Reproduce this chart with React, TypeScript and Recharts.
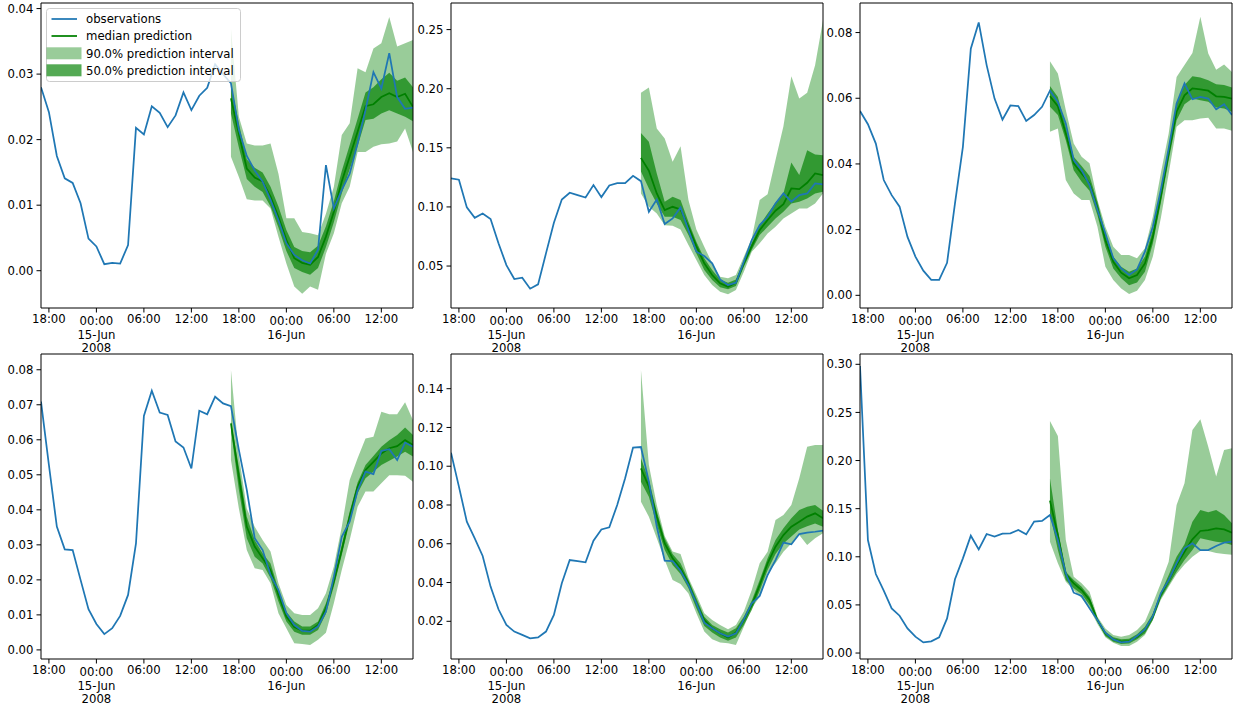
import React from "react";
import { ComposedChart, Line, Area, XAxis, YAxis, ReferenceLine } from "recharts";

const FONT = "'DejaVu Sans', sans-serif";
const FS = 11.7;
const OBS_COLOR = "#1f77b4";
const MED_COLOR = "#008000";

// hourly index 0 = 14-Jun-2008 17:00 ... 47 = 16-Jun-2008 16:00
const FORECAST_START = 24;
const X_MAX = 47;
const xTickIdx = [1, 7, 13, 19, 25, 31, 37, 43];
const xTickLabels = ["18:00", "00:00\n15-Jun\n2008", "06:00", "12:00", "18:00", "00:00\n16-Jun", "06:00", "12:00"];

const legendLabels = ["observations", "median prediction", "90.0% prediction interval", "50.0% prediction interval"];

// ---------- panel 1 ----------
const obs1 = [0.0280,0.0242,0.0175,0.0141,0.0134,0.0103,0.0049,0.0037,0.0010,0.0012,0.0011,0.0039,0.0218,0.0208,0.0251,0.0241,0.0219,0.0237,0.0272,0.0245,0.0267,0.0279,0.0315,0.0300,0.0286,0.0215,0.0175,0.0153,0.0136,0.0108,0.0077,0.0042,0.0024,0.0016,0.0011,0.0032,0.0161,0.0095,0.0123,0.0148,0.0194,0.0245,0.0303,0.0278,0.0332,0.0265,0.0247,0.0249];
const med1 = [0.0263,0.0209,0.0156,0.0142,0.0136,0.0113,0.0082,0.0047,0.0019,0.0012,0.0009,0.0021,0.0052,0.0090,0.0136,0.0174,0.0212,0.0251,0.0254,0.0265,0.0271,0.0265,0.0270,0.0250];
const lo50_1 = [0.0240,0.0188,0.0140,0.0128,0.0120,0.0098,0.0066,0.0030,0.0004,-0.0002,-0.0006,0.0004,0.0036,0.0074,0.0118,0.0155,0.0190,0.0230,0.0232,0.0240,0.0245,0.0240,0.0235,0.0228];
const hi50_1 = [0.0285,0.0225,0.0170,0.0157,0.0150,0.0128,0.0098,0.0062,0.0036,0.0030,0.0028,0.0038,0.0068,0.0106,0.0152,0.0192,0.0232,0.0272,0.0280,0.0292,0.0302,0.0290,0.0295,0.0280];
const lo90_1 = [0.0174,0.0143,0.0109,0.0107,0.0107,0.0095,0.0052,0.0011,-0.0024,-0.0035,-0.0024,-0.0029,0.0026,0.0057,0.0103,0.0128,0.0181,0.0181,0.0189,0.0193,0.0194,0.0197,0.0217,0.0181];
const hi90_1 = [0.0370,0.0235,0.0194,0.0191,0.0191,0.0194,0.0148,0.0080,0.0080,0.0059,0.0057,0.0054,0.0087,0.0128,0.0207,0.0225,0.0309,0.0303,0.0339,0.0347,0.0387,0.0342,0.0347,0.0352];
const yTicks1 = [0.0, 0.01, 0.02, 0.03, 0.04];

// ---------- panel 2 ----------
const obs2 = [0.1241,0.1230,0.0996,0.0908,0.0945,0.0897,0.0692,0.0508,0.0390,0.0401,0.0308,0.0345,0.0607,0.0866,0.1063,0.1120,0.1100,0.1080,0.1185,0.1083,0.1182,0.1201,0.1201,0.1263,0.1218,0.0959,0.1063,0.0855,0.0903,0.0996,0.0804,0.0621,0.0585,0.0523,0.0387,0.0339,0.0359,0.0537,0.0720,0.0846,0.0917,0.1030,0.1114,0.1044,0.1100,0.1114,0.1199,0.1190];
const med2 = [0.1415,0.1306,0.1114,0.0973,0.1001,0.0979,0.0832,0.0669,0.0523,0.0424,0.0354,0.0325,0.0359,0.0523,0.0669,0.0804,0.0889,0.0968,0.1024,0.1156,0.1151,0.1204,0.1283,0.1269];
const lo50_2 = [0.1300,0.1156,0.1030,0.0917,0.0917,0.0889,0.0762,0.0607,0.0466,0.0382,0.0320,0.0303,0.0331,0.0494,0.0635,0.0762,0.0832,0.0903,0.0959,0.1030,0.1044,0.1072,0.1114,0.1128];
const hi50_2 = [0.1625,0.1551,0.1283,0.1044,0.1086,0.1058,0.0875,0.0706,0.0565,0.0466,0.0387,0.0359,0.0387,0.0551,0.0697,0.0846,0.0945,0.1035,0.1114,0.1376,0.1269,0.1480,0.1444,0.1438];
const lo90_2 = [0.1114,0.1001,0.0945,0.0846,0.0841,0.0810,0.0677,0.0551,0.0424,0.0339,0.0283,0.0261,0.0297,0.0452,0.0621,0.0692,0.0776,0.0832,0.0903,0.0945,0.0987,0.0987,0.1030,0.1114];
const hi90_2 = [0.1965,0.2010,0.1663,0.1579,0.1382,0.1514,0.1058,0.0810,0.0663,0.0523,0.0410,0.0396,0.0424,0.0579,0.0734,0.1058,0.1108,0.1396,0.1683,0.2106,0.1917,0.1965,0.2199,0.2579];
const yTicks2 = [0.05, 0.10, 0.15, 0.20, 0.25];

// ---------- panel 3 ----------
const obs3 = [0.0561,0.0521,0.0462,0.0351,0.0305,0.0270,0.0178,0.0118,0.0075,0.0047,0.0047,0.0099,0.0280,0.0452,0.0751,0.0831,0.0701,0.0599,0.0535,0.0578,0.0576,0.0531,0.0549,0.0574,0.0623,0.0589,0.0523,0.0412,0.0381,0.0336,0.0260,0.0189,0.0113,0.0082,0.0062,0.0079,0.0133,0.0209,0.0320,0.0447,0.0584,0.0645,0.0597,0.0604,0.0599,0.0566,0.0582,0.0549];
const med3 = [0.0606,0.0576,0.0493,0.0402,0.0371,0.0341,0.0265,0.0168,0.0102,0.0069,0.0052,0.0062,0.0097,0.0178,0.0300,0.0432,0.0559,0.0609,0.0630,0.0627,0.0623,0.0606,0.0604,0.0599];
const lo50_3 = [0.0574,0.0549,0.0472,0.0381,0.0346,0.0318,0.0244,0.0148,0.0082,0.0052,0.0031,0.0039,0.0072,0.0158,0.0280,0.0412,0.0533,0.0582,0.0599,0.0594,0.0589,0.0572,0.0569,0.0559];
const hi50_3 = [0.0637,0.0604,0.0513,0.0422,0.0394,0.0363,0.0285,0.0189,0.0118,0.0087,0.0072,0.0082,0.0118,0.0199,0.0320,0.0452,0.0584,0.0640,0.0667,0.0663,0.0655,0.0643,0.0640,0.0633];
const lo90_3 = [0.0498,0.0508,0.0351,0.0310,0.0290,0.0290,0.0209,0.0087,0.0047,0.0021,0.0004,0.0014,0.0047,0.0118,0.0234,0.0371,0.0513,0.0533,0.0533,0.0538,0.0541,0.0508,0.0508,0.0501];
const hi90_3 = [0.0713,0.0675,0.0564,0.0462,0.0422,0.0402,0.0290,0.0209,0.0148,0.0123,0.0123,0.0113,0.0143,0.0239,0.0371,0.0493,0.0665,0.0701,0.0738,0.0848,0.0736,0.0687,0.0703,0.0680];
const yTicks3 = [0.0, 0.02, 0.04, 0.06, 0.08];

// ---------- panel 4 ----------
const obs4 = [0.0709,0.0528,0.0352,0.0287,0.0285,0.0200,0.0116,0.0074,0.0045,0.0062,0.0097,0.0157,0.0304,0.0668,0.0740,0.0678,0.0671,0.0595,0.0578,0.0518,0.0683,0.0673,0.0723,0.0704,0.0696,0.0571,0.0457,0.0319,0.0285,0.0214,0.0171,0.0105,0.0071,0.0054,0.0052,0.0067,0.0109,0.0209,0.0323,0.0366,0.0455,0.0509,0.0502,0.0568,0.0573,0.0542,0.0592,0.0580];
const med4 = [0.0647,0.0495,0.0352,0.0295,0.0262,0.0228,0.0157,0.0095,0.0065,0.0055,0.0055,0.0071,0.0119,0.0195,0.0285,0.0381,0.0466,0.0514,0.0537,0.0561,0.0576,0.0582,0.0599,0.0585];
const lo50_4 = [0.0628,0.0457,0.0319,0.0266,0.0247,0.0205,0.0138,0.0081,0.0052,0.0043,0.0043,0.0057,0.0103,0.0181,0.0271,0.0366,0.0447,0.0490,0.0509,0.0528,0.0540,0.0552,0.0566,0.0552];
const hi50_4 = [0.0652,0.0523,0.0380,0.0314,0.0276,0.0247,0.0173,0.0109,0.0081,0.0067,0.0067,0.0081,0.0133,0.0205,0.0300,0.0395,0.0478,0.0528,0.0554,0.0580,0.0599,0.0614,0.0635,0.0614];
const lo90_4 = [0.0542,0.0404,0.0285,0.0233,0.0228,0.0190,0.0105,0.0062,0.0019,0.0017,0.0014,0.0029,0.0049,0.0133,0.0228,0.0314,0.0409,0.0452,0.0452,0.0476,0.0499,0.0499,0.0497,0.0480];
const hi90_4 = [0.0799,0.0556,0.0404,0.0352,0.0314,0.0281,0.0190,0.0128,0.0105,0.0100,0.0100,0.0119,0.0162,0.0238,0.0352,0.0485,0.0547,0.0604,0.0609,0.0680,0.0673,0.0673,0.0707,0.0656];
const yTicks4 = [0.0, 0.01, 0.02, 0.03, 0.04, 0.05, 0.06, 0.07, 0.08];

// ---------- panel 5 ----------
const obs5 = [0.1070,0.0895,0.0714,0.0628,0.0537,0.0379,0.0262,0.0181,0.0147,0.0130,0.0112,0.0117,0.0147,0.0233,0.0396,0.0516,0.0511,0.0504,0.0616,0.0674,0.0685,0.0800,0.0938,0.1096,0.1099,0.0920,0.0688,0.0513,0.0511,0.0461,0.0387,0.0293,0.0193,0.0164,0.0138,0.0121,0.0138,0.0210,0.0293,0.0331,0.0439,0.0516,0.0606,0.0597,0.0650,0.0657,0.0662,0.0668];
const med5 = [0.0989,0.0895,0.0740,0.0602,0.0525,0.0473,0.0396,0.0293,0.0207,0.0164,0.0138,0.0117,0.0142,0.0207,0.0284,0.0387,0.0499,0.0585,0.0645,0.0688,0.0714,0.0740,0.0757,0.0731];
const lo50_5 = [0.0920,0.0843,0.0697,0.0568,0.0491,0.0444,0.0370,0.0267,0.0176,0.0142,0.0117,0.0100,0.0117,0.0181,0.0258,0.0358,0.0465,0.0547,0.0602,0.0637,0.0674,0.0690,0.0705,0.0688];
const hi50_5 = [0.1041,0.0929,0.0766,0.0628,0.0547,0.0499,0.0413,0.0319,0.0224,0.0181,0.0159,0.0142,0.0164,0.0224,0.0307,0.0413,0.0525,0.0619,0.0680,0.0731,0.0774,0.0791,0.0800,0.0770];
const lo90_5 = [0.0817,0.0740,0.0628,0.0516,0.0413,0.0393,0.0344,0.0241,0.0147,0.0107,0.0090,0.0087,0.0078,0.0172,0.0267,0.0327,0.0451,0.0499,0.0559,0.0602,0.0645,0.0594,0.0628,0.0654];
const hi90_5 = [0.1496,0.1006,0.0800,0.0640,0.0560,0.0547,0.0425,0.0336,0.0241,0.0207,0.0181,0.0159,0.0181,0.0250,0.0362,0.0499,0.0559,0.0723,0.0748,0.0800,0.0938,0.1101,0.1109,0.1109];
const yTicks5 = [0.02, 0.04, 0.06, 0.08, 0.10, 0.12, 0.14];

// ---------- panel 6 ----------
const obs6 = [0.2983,0.1174,0.0821,0.0648,0.0464,0.0388,0.0256,0.0170,0.0111,0.0121,0.0163,0.0360,0.0766,0.0984,0.1219,0.1077,0.1237,0.1209,0.1240,0.1244,0.1278,0.1233,0.1365,0.1372,0.1434,0.1174,0.0828,0.0627,0.0592,0.0464,0.0343,0.0211,0.0142,0.0111,0.0118,0.0177,0.0246,0.0385,0.0620,0.0759,0.0932,0.1088,0.1140,0.1070,0.1070,0.1112,0.1147,0.1157];
const med6 = [0.1583,0.1226,0.0821,0.0724,0.0655,0.0551,0.0343,0.0204,0.0142,0.0118,0.0125,0.0170,0.0239,0.0378,0.0603,0.0759,0.0915,0.1053,0.1181,0.1268,0.1278,0.1296,0.1285,0.1251];
const lo50_6 = [0.1451,0.1070,0.0759,0.0672,0.0613,0.0499,0.0326,0.0177,0.0118,0.0094,0.0100,0.0142,0.0204,0.0343,0.0568,0.0707,0.0845,0.0967,0.1070,0.1192,0.1174,0.1157,0.1147,0.1122];
const hi50_6 = [0.1815,0.1278,0.0845,0.0759,0.0689,0.0585,0.0360,0.0222,0.0163,0.0142,0.0149,0.0194,0.0274,0.0412,0.0627,0.0811,0.1001,0.1129,0.1365,0.1486,0.1462,0.1486,0.1434,0.1348];
const lo90_6 = [0.1157,0.0932,0.0741,0.0655,0.0568,0.0464,0.0301,0.0163,0.0107,0.0073,0.0073,0.0118,0.0187,0.0343,0.0551,0.0689,0.0820,0.0920,0.1000,0.1060,0.1060,0.1040,0.1030,0.1020];
const hi90_6 = [0.2411,0.2255,0.1174,0.0793,0.0724,0.0637,0.0378,0.0256,0.0187,0.0170,0.0187,0.0239,0.0326,0.0516,0.0724,0.0949,0.1538,0.1763,0.2318,0.2428,0.2144,0.1833,0.2110,0.2127];
const yTicks6 = [0.0, 0.05, 0.10, 0.15, 0.20, 0.25, 0.30];

const panels = [
  { obs: obs1, med: med1, lo50: lo50_1, hi50: hi50_1, lo90: lo90_1, hi90: hi90_1, domain: [-0.00569, 0.04085], ticks: yTicks1 },
  { obs: obs2, med: med2, lo50: lo50_2, hi50: hi50_2, lo90: lo90_2, hi90: hi90_2, domain: [0.0145, 0.2725], ticks: yTicks2 },
  { obs: obs3, med: med3, lo50: lo50_3, hi50: hi50_3, lo90: lo90_3, hi90: hi90_3, domain: [-0.00386, 0.089], ticks: yTicks3 },
  { obs: obs4, med: med4, lo50: lo50_4, hi50: hi50_4, lo90: lo90_4, hi90: hi90_4, domain: [-0.0026, 0.0845], ticks: yTicks4 },
  { obs: obs5, med: med5, lo50: lo50_5, hi50: hi50_5, lo90: lo90_5, hi90: hi90_5, domain: [0.00055, 0.1579], ticks: yTicks5 },
  { obs: obs6, med: med6, lo50: lo50_6, hi50: hi50_6, lo90: lo90_6, hi90: hi90_6, domain: [-0.0062, 0.3107], ticks: yTicks6 },
];

// layout
const PLOT_LEFTS = [41, 451, 860];
const PLOT_TOPS = [3, 354];
const PLOT_W = 372;
const PLOT_H = 305;
const Y_AXIS_W = 41;
const X_AXIS_H = 48;
const M_TOP = 3;
const M_RIGHT = 4;

function buildRows(p: any) {
  return p.obs.map((v: number, i: number) => {
    const j = i - FORECAST_START;
    const inF = j >= 0;
    return {
      t: i,
      obs: v,
      med: inF ? p.med[j] : null,
      band50: inF ? [p.lo50[j], p.hi50[j]] : null,
      band90: inF ? [p.lo90[j], p.hi90[j]] : null,
    };
  });
}

const XTick = (props: any) => {
  const { x, y, payload } = props;
  const k = xTickIdx.indexOf(payload.value);
  const lines = (k >= 0 ? xTickLabels[k] : "").split("\n");
  const multi = lines.length > 1;
  return (
    <text x={x} y={y} textAnchor="middle" fontFamily={FONT} fontSize={FS} fill="#000">
      {lines.map((l, n) => (
        <tspan key={n} x={x} dy={n === 0 ? (multi ? 10.6 : 8.4) : 13.4}>
          {l}
        </tspan>
      ))}
    </text>
  );
};

function Panel({ p, left, top }: { p: any; left: number; top: number }) {
  const rows = buildRows(p);
  return (
    <div style={{ position: "absolute", left, top }}>
      <ComposedChart
        width={Y_AXIS_W + PLOT_W + M_RIGHT}
        height={M_TOP + PLOT_H + X_AXIS_H}
        data={rows}
        margin={{ top: M_TOP, right: M_RIGHT, bottom: 0, left: 0 }}
      >
        <XAxis
          dataKey="t"
          type="number"
          domain={[0, X_MAX]}
          allowDataOverflow
          ticks={xTickIdx}
          interval={0}
          tick={<XTick />}
          tickSize={4.5}
          tickMargin={2}
          height={X_AXIS_H}
          stroke="#000"
        />
        <YAxis
          type="number"
          domain={p.domain}
          allowDataOverflow
          ticks={p.ticks}
          interval={0}
          tickFormatter={(v: number) => v.toFixed(2)}
          width={Y_AXIS_W}
          tickSize={4.5}
          tickMargin={3}
          stroke="#000"
          tick={{ fill: "#000", fontSize: FS, fontFamily: FONT }}
        />
        <Area
          dataKey="band90"
          type="linear"
          stroke="none"
          fill={MED_COLOR}
          fillOpacity={0.4}
          isAnimationActive={false}
          dot={false}
          activeDot={false}
        />
        <Area
          dataKey="band50"
          type="linear"
          stroke="none"
          fill={MED_COLOR}
          fillOpacity={0.67}
          isAnimationActive={false}
          dot={false}
          activeDot={false}
        />
        <Line
          dataKey="med"
          type="linear"
          stroke={MED_COLOR}
          strokeWidth={1.75}
          dot={false}
          activeDot={false}
          isAnimationActive={false}
        />
        <Line
          dataKey="obs"
          type="linear"
          stroke={OBS_COLOR}
          strokeWidth={1.75}
          dot={false}
          activeDot={false}
          isAnimationActive={false}
        />
        {/* top and right spines */}
        <ReferenceLine y={p.domain[1]} stroke="#000" strokeWidth={1} ifOverflow="visible" />
        <ReferenceLine x={X_MAX} stroke="#000" strokeWidth={1} ifOverflow="visible" />
      </ComposedChart>
    </div>
  );
}

function LegendBox() {
  const rowY = [11, 28, 45.3, 62.3];
  return (
    <svg style={{ position: "absolute", left: 46, top: 8 }} width={195} height={75}>
      <rect x={0.5} y={0.5} width={194} height={73} rx={3} ry={3} fill="#ffffff" fillOpacity={0.8} stroke="#cccccc" strokeWidth={1} />
      <line x1={5.5} x2={31} y1={rowY[0]} y2={rowY[0]} stroke={OBS_COLOR} strokeWidth={1.75} />
      <line x1={5.5} x2={31} y1={rowY[1]} y2={rowY[1]} stroke={MED_COLOR} strokeWidth={1.75} />
      <rect x={0.5} y={rowY[2] - 6} width={35} height={12} fill={MED_COLOR} fillOpacity={0.4} />
      <rect x={0.5} y={rowY[3] - 6} width={35} height={12} fill={MED_COLOR} fillOpacity={0.67} />
      {legendLabels.map((l, i) => (
        <text key={l} x={40} y={rowY[i] + 4.2} fontFamily={FONT} fontSize={FS} fill="#000">
          {l}
        </text>
      ))}
    </svg>
  );
}

export default function App() {
  return (
    <div style={{ position: "absolute", left: 0, top: 0, width: 1242, height: 710, background: "#fff", overflow: "hidden" }}>
      {panels.map((p, k) => {
        const col = k % 3;
        const row = Math.floor(k / 3);
        return (
          <Panel
            key={k}
            p={p}
            left={PLOT_LEFTS[col] - Y_AXIS_W}
            top={PLOT_TOPS[row] - M_TOP}
          />
        );
      })}
      <LegendBox />
    </div>
  );
}
